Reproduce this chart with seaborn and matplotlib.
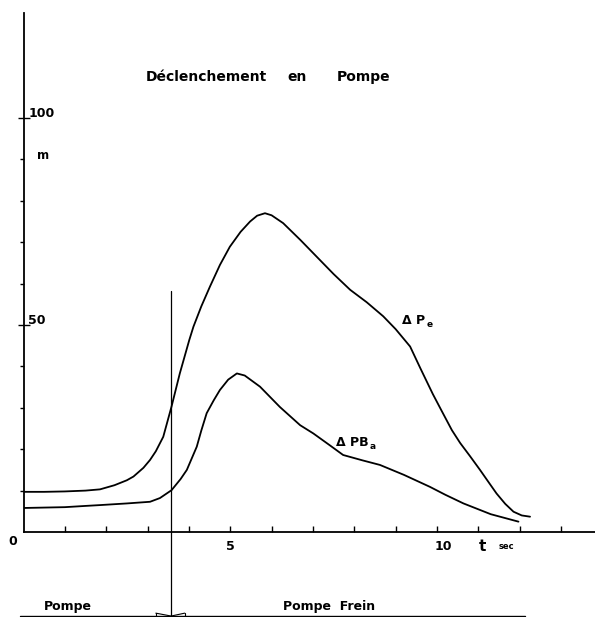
import numpy as np
import pandas as pd
import matplotlib
matplotlib.use("Agg")
import matplotlib.pyplot as plt
import seaborn as sns

# Pressure rise (m) after trip in pump mode, time in seconds
t_pe = [0, 0.5, 1.0, 1.5, 1.85, 2.2, 2.5, 2.66, 2.9, 3.06, 3.2, 3.38, 3.58, 3.78,
        4.01, 4.11, 4.3, 4.51, 4.75, 4.99, 5.25, 5.48, 5.65, 5.84, 6.0, 6.28,
        6.7, 7.09, 7.5, 7.9, 8.3, 8.7, 9.0, 9.35, 9.6, 9.9, 10.1, 10.36, 10.56,
        10.8, 11.04, 11.25, 11.44, 11.65, 11.85, 12.05, 12.25]
dp_e = [9.7, 9.7, 9.8, 10.0, 10.3, 11.3, 12.5, 13.4, 15.5, 17.4, 19.5, 23.0, 30.3, 38.3,
        46.4, 49.6, 54.5, 59.3, 64.5, 68.9, 72.5, 75.0, 76.4, 77.0, 76.5, 74.6,
        70.5, 66.5, 62.3, 58.5, 55.5, 52.1, 49.0, 44.8, 39.5, 33.3, 29.5, 24.6, 21.5,
        18.3, 15.0, 12.0, 9.3, 6.8, 4.9, 4.0, 3.7]

t_pba = [0, 0.5, 1.0, 1.5, 1.85, 2.5, 3.06, 3.3, 3.58, 3.8, 3.95, 4.19, 4.3, 4.43,
         4.6, 4.75, 4.95, 5.16, 5.35, 5.72, 6.2, 6.69, 7.01, 7.4, 7.73, 8.2, 8.62,
         9.2, 9.83, 10.2, 10.64, 11.3, 11.97]
dp_ba = [5.8, 5.9, 6.0, 6.3, 6.5, 6.9, 7.3, 8.2, 10.1, 12.8, 15.0, 20.6, 24.5, 28.7,
         31.8, 34.3, 36.8, 38.3, 37.8, 35.1, 30.2, 25.8, 23.8, 21.0, 18.6, 17.3, 16.2,
         13.8, 10.9, 9.0, 6.9, 4.3, 2.5]

t_switch = 3.57          # change from pump to pump-brake operation
x_tick_labels = [5, 10]
y_tick_labels = [50, 100]

df = pd.concat([
    pd.DataFrame({"t": t_pe, "dp": dp_e, "serie": "Pe"}),
    pd.DataFrame({"t": t_pba, "dp": dp_ba, "serie": "PBa"}),
])

sns.set_theme(style="white")
plt.rcParams["font.family"] = ["DejaVu Sans"]

W, H = 595, 617
fig = plt.figure(figsize=(W / 100, H / 100), dpi=100)
x0_px, y0_px, top_px = 23.5, 532, 13
ax = fig.add_axes([x0_px / W, (H - y0_px) / H, (W - x0_px) / W, (y0_px - top_px) / H])

sns.lineplot(data=df, x="t", y="dp", hue="serie", units="serie", estimator=None,
             palette=["black", "black"], linewidth=1.3, legend=False, sort=False, ax=ax)
for ln in ax.get_lines():
    ln.set_solid_joinstyle("round")

ax.set_xlim(0, (W - x0_px) / 41.35)
ax.set_ylim(0, (y0_px - top_px) / 4.14)
ax.set_xlabel("")
ax.set_ylabel("")
for s in ["top", "right"]:
    ax.spines[s].set_visible(False)
for s in ["left", "bottom"]:
    ax.spines[s].set_color("black")
    ax.spines[s].set_linewidth(1.3)

ax.set_xticks(np.arange(1, 14))
ax.set_xticklabels([])
ax.tick_params(axis="x", direction="in", length=4, width=1, color="black", bottom=True)
ax.set_yticks(y_tick_labels)
ax.set_yticklabels([])
ax.set_yticks([10, 20, 30, 40, 60, 70, 80, 90], minor=True)
ax.tick_params(axis="y", which="major", direction="inout", length=8, width=1,
               color="black", left=True)
ax.tick_params(axis="y", which="minor", direction="out", length=3, width=1,
               color="black", left=True)

bold = dict(color="black", fontweight="bold", clip_on=False)

# axis labels
for v in x_tick_labels:
    ax.text(v + (0.15 if v == 10 else 0), -3.6, str(v), ha="center", va="center",
            fontsize=9, **bold)
ax.text(-0.25, -2.2, "0", ha="center", va="center", fontsize=9, **bold)
for v in y_tick_labels:
    ax.text(0.12, v + 1.0, str(v), ha="left", va="center", fontsize=9, **bold)
ax.text(0.32, 91, "m", ha="left", va="center", fontsize=8.5, **bold)
ax.text(11.1, -3.6, "t", ha="center", va="center", fontsize=11, **bold)
ax.text(11.5, -3.6, "sec", ha="left", va="center", fontsize=6, **bold)

# title
ax.text(2.95, 110, "Déclenchement", ha="left", va="center", fontsize=10, **bold)
ax.text(6.38, 110, "en", ha="left", va="center", fontsize=10, **bold)
ax.text(7.58, 110, "Pompe", ha="left", va="center", fontsize=10, **bold)

# curve labels
ax.text(9.15, 51, "Δ P", ha="left", va="center", fontsize=9, **bold)
ax.text(9.76, 50.2, "e", ha="left", va="center", fontsize=6.5, **bold)
ax.text(7.55, 21.5, "Δ PB", ha="left", va="center", fontsize=9, **bold)
ax.text(8.38, 20.6, "a", ha="left", va="center", fontsize=6.5, **bold)

# switch-over line and operating modes
ax.plot([t_switch, t_switch], [-20.3, 58.2], color="black", lw=0.9, clip_on=False)
ax.plot([-0.08, 12.13], [-20.3, -20.3], color="black", lw=1.0, clip_on=False)
ax.plot([3.2, 3.57, 3.9], [-19.6, -20.3, -19.6], color="black", lw=0.8, clip_on=False)
ax.plot([3.2, 3.2], [-19.6, -20.3], color="black", lw=0.8, clip_on=False)
ax.plot([3.9, 3.9], [-19.6, -20.3], color="black", lw=0.8, clip_on=False)
ax.text(1.08, -17.9, "Pompe", ha="center", va="center", fontsize=9, **bold)
ax.text(7.39, -17.9, "Pompe  Frein", ha="center", va="center", fontsize=9, **bold)

fig.savefig("out.png", dpi=100)
